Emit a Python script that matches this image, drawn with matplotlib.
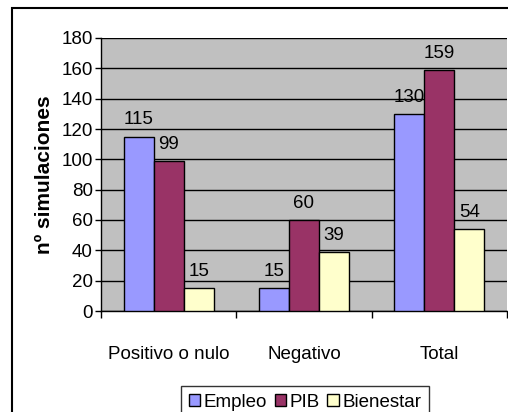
import matplotlib.pyplot as plt
from matplotlib.patches import Rectangle
import numpy as np

plt.rcParams['font.family'] = ['Liberation Sans', 'DejaVu Sans']
plt.rcParams['font.size'] = 13.5

categories = ['Positivo o nulo', 'Negativo', 'Total']
series = ['Empleo', 'PIB', 'Bienestar']
empleo = [115, 15, 130]
pib = [99, 60, 159]
bienestar = [15, 39, 54]
colors = ['#9999FF', '#993366', '#FFFFCC']

fig = plt.figure(figsize=(5.08, 4.12), dpi=100)
fig.patch.set_facecolor('white')
ax = fig.add_axes([101 / 508, 101 / 412, 406 / 508, 273 / 412])
ax.set_facecolor('#C0C0C0')

x = np.arange(len(categories)) + 0.5
w = 0.222
for i, (vals, name) in enumerate(zip([empleo, pib, bienestar], series)):
    pos = x + (i - 1) * w
    ax.bar(pos, vals, width=w, color=colors[i], edgecolor='black',
           linewidth=1, label=name, zorder=3)
    for xp, v in zip(pos, vals):
        ax.annotate(str(v), (xp, v), xytext=(0, 6), textcoords='offset points',
                    ha='center', va='bottom', zorder=4)

ax.set_xlim(0, 3)
ax.set_ylim(0, 180)
ax.set_yticks(range(0, 181, 20))
ax.yaxis.grid(True, color='black', linewidth=1, zorder=1)
ax.set_axisbelow(True)
ax.set_xticks([0, 1, 2, 3])
ax.set_xticklabels([])
ax.set_xticks(x, minor=True)
ax.set_xticklabels(categories, minor=True)
ax.tick_params(axis='x', which='minor', length=0, pad=25)
ax.tick_params(axis='x', which='major', length=5, width=1, direction='out')
ax.tick_params(axis='y', length=4, width=1, pad=2)
for s in ['top', 'right']:
    ax.spines[s].set_visible(False)
ax.spines['left'].set_linewidth(1)
ax.spines['bottom'].set_linewidth(1)
ax.set_ylabel('nº simulaciones', fontweight='bold', fontsize=15, labelpad=5)

leg = fig.legend(loc='upper center', bbox_to_anchor=(305 / 508, 1 - 377 / 412),
                 ncol=3, frameon=True, fancybox=False, edgecolor='black',
                 handlelength=0.6, handleheight=0.6, handletextpad=0.2,
                 columnspacing=0.4, borderpad=0.4)
leg.get_frame().set_linewidth(1)

fig.patches.append(Rectangle((12 / 508, -0.1), 1.1, 1 - 8 / 412 + 0.1,
                             transform=fig.transFigure, fill=False,
                             edgecolor='black', linewidth=1.5))

fig.savefig('out.png', dpi=100)
